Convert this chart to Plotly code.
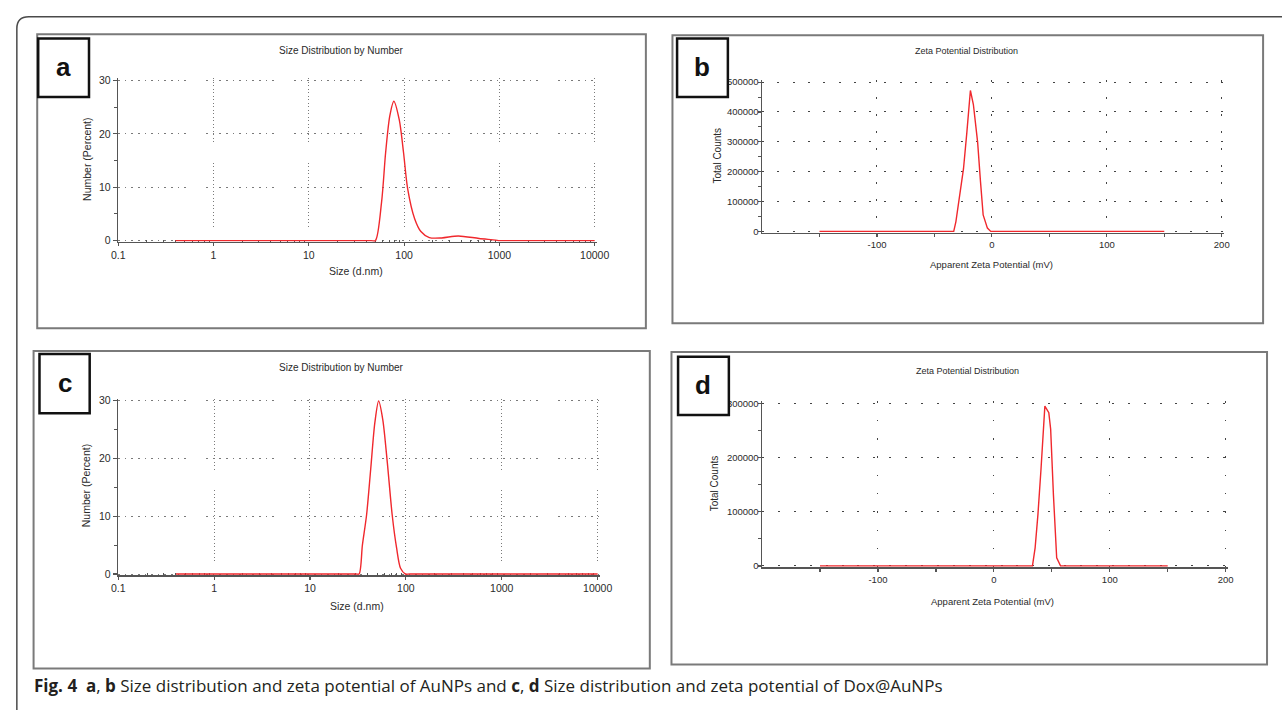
import plotly.graph_objects as go

W, H = 1282, 710

# ---------------- data ----------------
# (a) AuNPs size distribution by number
a_size = [0.4, 45, 50, 58, 64, 70.7, 78, 89, 98.6, 109, 129, 150, 184, 248, 370, 612, 912, 1000, 1200, 10000]
a_number = [0, 0, 0, 7.2, 16.5, 23.3, 26.1, 22.6, 16.5, 9.7, 4.1, 1.7, 0.56, 0.5, 0.87, 0.4, 0.1, 0, 0, 0]

# (b) AuNPs zeta potential distribution
b_zeta = [-150, -33.2, -31.3, -28.4, -24.7, -21.8, -18.7, -16.1, -12.4, -9.9, -7.6, -3.9, -1, 150]
b_counts = [0, 0, 33000, 105000, 210000, 331000, 472000, 425000, 298000, 166000, 55000, 11000, 0, 0]

# (c) Dox@AuNPs size distribution by number
c_size = [0.4, 30, 32.5, 35.2, 38.9, 43, 47.5, 52, 57.4, 64, 72, 80, 88, 99, 110, 10000]
c_number = [0, 0, 0, 5.0, 10.2, 18.2, 26.2, 29.9, 26.7, 19.3, 10.2, 4.5, 1.0, 0, 0, 0]

# (d) Dox@AuNPs zeta potential distribution
d_zeta = [-150, 33.3, 35.6, 38, 40.7, 44, 47.4, 49, 51.4, 54.2, 57.5, 150]
d_counts = [0, 0, 33400, 94200, 179500, 295000, 283000, 252500, 130700, 15000, 0, 0]

size_ticks = [0.1, 1, 10, 100, 1000, 10000]
size_ticktext = ["0.1", "1", "10", "100", "1000", "10000"]
size_minor = [m * 10 ** e for e in range(-1, 4) for m in range(2, 10)]
number_ticks = [0, 10, 20, 30]
number_minor = [5, 15, 25]
zeta_ticks = [-100, 0, 100, 200]
zeta_ticktext = ["-100", "0", "100", "200"]
zeta_minor = [-150, -50, 50, 150]
b_count_ticks = [0, 100000, 200000, 300000, 400000, 500000]
b_count_minor = [50000, 150000, 250000, 350000, 450000]
d_count_ticks = [0, 100000, 200000, 300000]
d_count_minor = [50000, 150000, 250000]

caption = ("<b>Fig. 4</b>\u00a0\u00a0<b>a</b>, <b>b</b> Size distribution and zeta potential of AuNPs "
           "and <b>c</b>, <b>d</b> Size distribution and zeta potential of Dox@AuNPs")


# ---------------- helpers ----------------
def fx(px):
    return px / W


def fy(py):
    return 1 - py / H


RED = "#f0282d"
AX = "#555555"
GRID = "#7a7a7a"
TXT = "#2a2a2a"
FONT = "Liberation Sans, Arial, sans-serif"

hpat_size = ",".join(["1.5px,5.1px"] * 10 + ["1.5px,20.5px"])
vpat_a = ",".join(["1px,2.5px"] * 18 + ["1px,20.5px"])
vpat_c = ",".join(["1px,2.5px"] * 20 + ["1px,20.5px"])

fig = go.Figure()

fig.add_trace(go.Scatter(x=a_size, y=a_number, mode="lines", xaxis="x", yaxis="y",
                         line=dict(color=RED, width=1.4, shape="spline", smoothing=0.8),
                         hoverinfo="skip", showlegend=False))
fig.add_trace(go.Scatter(x=b_zeta, y=b_counts, mode="lines", xaxis="x2", yaxis="y2",
                         line=dict(color=RED, width=1.4),
                         hoverinfo="skip", showlegend=False))
fig.add_trace(go.Scatter(x=c_size, y=c_number, mode="lines", xaxis="x3", yaxis="y3",
                         line=dict(color=RED, width=1.4, shape="spline", smoothing=0.8),
                         hoverinfo="skip", showlegend=False))
fig.add_trace(go.Scatter(x=d_zeta, y=d_counts, mode="lines", xaxis="x4", yaxis="y4",
                         line=dict(color=RED, width=1.4),
                         hoverinfo="skip", showlegend=False))


def size_xaxis(x0, x1, anchor, vpat):
    dec = (x1 - x0) / 5.0
    return dict(type="log", range=[-1, 4 + 2 / dec], domain=[fx(x0), fx(x1 + 2)], anchor=anchor,
                tickmode="array", tickvals=size_ticks, ticktext=size_ticktext,
                ticks="outside", ticklen=3, tickwidth=1.2, tickcolor=AX,
                showline=True, linecolor=AX, linewidth=1.5,
                showgrid=True, gridcolor=GRID, gridwidth=1, griddash=vpat,
                minor=dict(tickmode="array", tickvals=size_minor, ticks="inside",
                           ticklen=2, tickwidth=1, tickcolor=AX, showgrid=False),
                tickfont=dict(family=FONT, size=10.5, color=TXT), ticklabelstandoff=0,
                zeroline=False, layer="below traces", fixedrange=True)


def size_yaxis(y_top, y_bot, anchor):
    u = 30.0 / (y_bot - y_top)
    return dict(range=[-1.2 * u, 30 + 2 * u], domain=[fy(y_bot + 1.2), fy(y_top - 2)], anchor=anchor,
                tickmode="array", tickvals=number_ticks,
                ticks="outside", ticklen=4, tickwidth=1.2, tickcolor=AX,
                showline=True, linecolor=AX, linewidth=1.5,
                showgrid=True, gridcolor=GRID, gridwidth=1, griddash=hpat_size,
                minor=dict(tickmode="array", tickvals=number_minor, ticks="outside",
                           ticklen=3, tickwidth=1, tickcolor=AX, showgrid=False),
                tickfont=dict(family=FONT, size=10.5, color=TXT),
                zeroline=False, layer="below traces", fixedrange=True)


def zeta_xaxis(x0, x1, anchor, vpat):
    u = 400.0 / (x1 - x0)
    return dict(range=[-200, 200 + 2 * u], domain=[fx(x0), fx(x1 + 2)], anchor=anchor,
                tickmode="array", tickvals=zeta_ticks, ticktext=zeta_ticktext,
                ticks="outside", ticklen=3, tickwidth=1.2, tickcolor=AX,
                showline=True, linecolor=AX, linewidth=1.5,
                showgrid=True, gridcolor="#444", gridwidth=1, griddash=vpat,
                minor=dict(tickmode="array", tickvals=zeta_minor, ticks="outside",
                           ticklen=3, tickwidth=1.2, tickcolor=AX, showgrid=False),
                tickfont=dict(family=FONT, size=9.5, color=TXT), ticklabelstandoff=0,
                zeroline=False, layer="below traces", fixedrange=True)


def zeta_yaxis(y_top, y_bot, anchor, ymax, ticks, minor, hpat):
    u = ymax / (y_bot - y_top)
    return dict(range=[-1.2 * u, ymax + 2 * u], domain=[fy(y_bot + 1.2), fy(y_top - 2)], anchor=anchor,
                tickmode="array", tickvals=ticks, tickformat="d",
                ticks="outside", ticklen=3, tickwidth=1.2, tickcolor=AX,
                showline=True, linecolor=AX, linewidth=1.5,
                showgrid=True, gridcolor="#444", gridwidth=1, griddash=hpat,
                minor=dict(tickmode="array", tickvals=minor, ticks="outside",
                           ticklen=3, tickwidth=1, tickcolor=AX, showgrid=False),
                tickfont=dict(family=FONT, size=9.5, color=TXT), ticklabelstandoff=-3,
                zeroline=False, layer="below traces", fixedrange=True)


layout = dict(
    width=W, height=H, autosize=False,
    margin=dict(l=0, r=0, t=0, b=0),
    paper_bgcolor="white", plot_bgcolor="white",
    xaxis=size_xaxis(113, 597, "y", vpat_a),
    yaxis=size_yaxis(77.3, 239.3, "x"),
    xaxis2=zeta_xaxis(767, 1234, "y2", "1.5px,15.5px"),
    yaxis2=zeta_yaxis(79, 230, "x2", 500000, b_count_ticks, b_count_minor, "2px,13.3px"),
    xaxis3=size_xaxis(113, 600, "y3", vpat_c),
    yaxis3=size_yaxis(401, 576.5, "x3"),
    xaxis4=zeta_xaxis(767, 1238, "y4", "1.5px,16.8px"),
    yaxis4=zeta_yaxis(404, 568.3, "x4", 300000, d_count_ticks, d_count_minor, "2px,13.9px"),
)
fig.update_layout(**layout)

shapes = []
# outer rounded frame
r = 12
x0, y0 = 10, 13
path = (f"M {fx(x0)},{fy(H + 20)} L {fx(x0)},{fy(y0 + r)} "
        f"Q {fx(x0)},{fy(y0)} {fx(x0 + r)},{fy(y0)} L {fx(W + 20)},{fy(y0)}")
shapes.append(dict(type="path", path=path, xref="paper", yref="paper",
                   line=dict(color="#4a4a4a", width=1.5), layer="above"))

# panel frames
for (px0, py0, px1, py1) in [(30.7, 30.7, 649, 328), (676, 31.7, 1276, 323),
                             (27, 351, 653, 672), (675, 352, 1280, 668)]:
    shapes.append(dict(type="rect", xref="paper", yref="paper",
                       x0=fx(px0), x1=fx(px1), y0=fy(py1), y1=fy(py0),
                       line=dict(color="#7a7a7a", width=2), layer="below"))

# label boxes
label_boxes = [("a", 31.7, 35, 83.3, 94), ("b", 680.7, 35, 732.3, 94),
               ("c", 33, 354, 84, 414), ("d", 681.7, 356.7, 733.3, 415.7)]
for (lab, px0, py0, px1, py1) in label_boxes:
    shapes.append(dict(type="rect", xref="paper", yref="paper",
                       x0=fx(px0), x1=fx(px1), y0=fy(py1), y1=fy(py0),
                       fillcolor="white", line=dict(color="#111", width=2.5), layer="above"))

fig.update_layout(shapes=shapes)

ann = []
for (lab, px0, py0, px1, py1) in label_boxes:
    ann.append(dict(text=f"<b>{lab}</b>", x=fx((px0 + px1) / 2), y=fy((py0 + py1) / 2 - 1),
                    xref="paper", yref="paper", showarrow=False,
                    xanchor="center", yanchor="middle",
                    font=dict(family=FONT, size=26, color="#111")))


def text(t, px, py, size, angle=0, family=FONT):
    ann.append(dict(text=t, x=fx(px), y=fy(py), xref="paper", yref="paper", showarrow=False,
                    xanchor="center", yanchor="middle", textangle=angle,
                    font=dict(family=family, size=size, color=TXT)))


text("Size Distribution by Number", 340, 47, 10)
text("Size (d.nm)", 355, 270, 10.5)
text("Number (Percent)", 82, 157, 10.5, -90)

text("Zeta Potential Distribution", 975, 48, 9)
text("Apparent Zeta Potential (mV)", 1000, 263, 9.5)
text("Total Counts", 721.5, 153, 10, -90)

text("Size Distribution by Number", 340, 368, 10)
text("Size (d.nm)", 356, 609, 10.5)
text("Number (Percent)", 80, 487, 10.5, -90)

text("Zeta Potential Distribution", 976, 371, 9)
text("Apparent Zeta Potential (mV)", 1001, 604, 9.5)
text("Total Counts", 719, 485, 10, -90)

ann.append(dict(text=caption, x=fx(25), y=fy(689), xref="paper", yref="paper",
                showarrow=False, xanchor="left", yanchor="middle",
                font=dict(family="Open Sans, Noto Sans, sans-serif", size=17, color="#231f20")))

fig.update_layout(annotations=ann)

fig.write_html("out.html", include_plotlyjs=True, config={"displayModeBar": False, "staticPlot": True})
